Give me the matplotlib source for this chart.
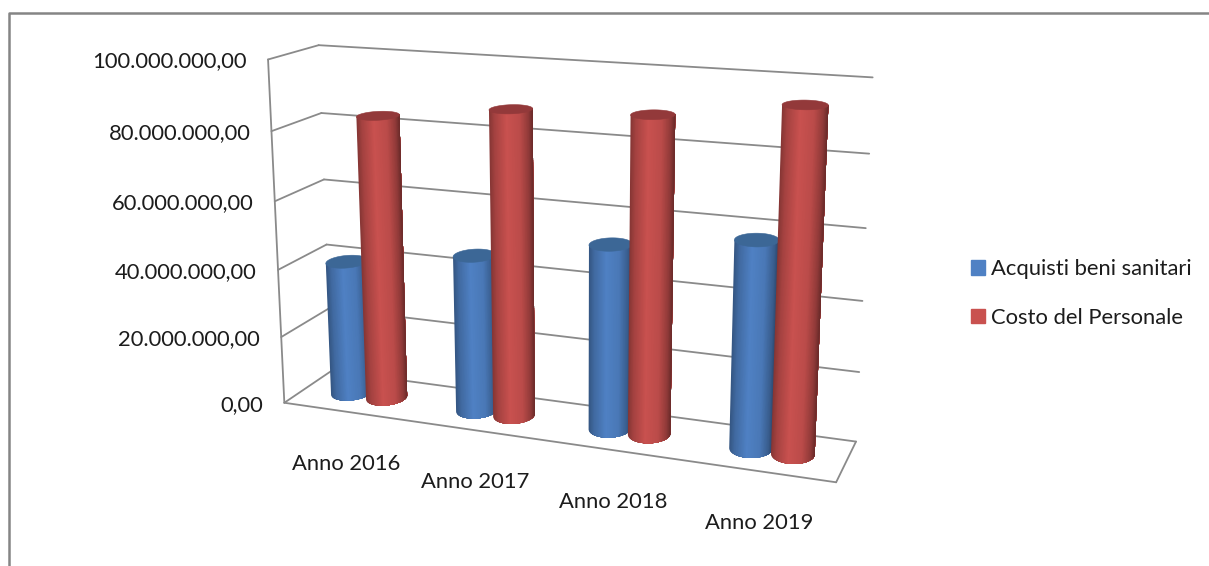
import numpy as np
import matplotlib
matplotlib.use("Agg")
import matplotlib.pyplot as plt
from matplotlib.patches import Patch, Polygon

# dati
categorie = ["Anno 2016", "Anno 2017", "Anno 2018", "Anno 2019"]
acquisti = [40e6, 45.8e6, 52.9e6, 58e6]
personale = [83.5e6, 88e6, 89.2e6, 94.4e6]
tick_valori = [0, 20e6, 40e6, 60e6, 80e6, 100e6]
serie_nomi = ["Acquisti beni sanitari", "Costo del Personale"]

BLU = "#4f81c4"
ROSSO = "#c9514f"
BLU_TOP = "#3c6796"
ROSSO_TOP = "#93393a"
GRIGIO = "#8a8a8a"
TESTO = "#1c1c1c"
FONT = "Lato"
SIZE = 15.8
VMAX = 100e6

# calibrazione della prospettiva: (x, profondita, z) -> pixel
cal = [
    (0, 0, 1, 267.3, 60), (0, 0, .8, 271.7, 130.7), (0, 0, .6, 275.7, 201),
    (0, 0, .4, 278.3, 269.3), (0, 0, .2, 281, 337.3), (0, 0, 0, 284, 403.3),
    (0, 1, 1, 318.3, 45), (0, 1, .8, 321.7, 113.3), (0, 1, .6, 324, 179.7),
    (0, 1, .4, 326.7, 244), (0, 1, .2, 328.3, 309.3), (0, 1, 0, 332, 370),
    (1, 1, 1, 872.7, 77.3), (1, 1, .8, 869.3, 154), (1, 1, .6, 865.7, 228),
    (1, 1, .4, 862.3, 300.7), (1, 1, .2, 859.3, 372), (1, 1, 0, 856, 441.7),
    (1, 0, 0, 836, 482.3),
]
A, b = [], []
for X, Y, Z, u, v in cal:
    A.append([X, Y, Z, 1, 0, 0, 0, 0, -u * X, -u * Y, -u * Z])
    A.append([0, 0, 0, 0, X, Y, Z, 1, -v * X, -v * Y, -v * Z])
    b += [u, v]
p = np.linalg.lstsq(np.array(A, float), np.array(b, float), rcond=None)[0]
P = np.append(p, 1).reshape(3, 4)


def proj(x, y, z):
    x, y, z = np.broadcast_arrays(x, y, z)
    q = P @ np.vstack([x.ravel(), y.ravel(), z.ravel(), np.ones(x.size)])
    return q[0] / q[2], q[1] / q[2]


def linea(ax, a, c):
    u, v = proj([a[0], c[0]], [a[1], c[1]], [a[2], c[2]])
    ax.plot(u, v, color=GRIGIO, lw=1.3, solid_capstyle="round", zorder=1)


def cilindro(ax, xc, val, base, top):
    rx, ry, d = 0.0357, 0.24, 0.5
    z = val / VMAX
    stops_c = [-1, -0.75, -0.2, 0.4, 0.8, 1]
    stops_f = [0.66, 0.82, 1.0, 0.93, 0.72, 0.52]
    rgb = np.array(matplotlib.colors.to_rgb(base))

    t = np.linspace(0, 2 * np.pi, 240, endpoint=False)
    ub, vb = proj(xc + rx * np.cos(t), d + ry * np.sin(t), 0)
    ut, vt = proj(xc + rx * np.cos(t), d + ry * np.sin(t), z)

    # estremi visibili delle due ellissi: i bordi del corpo
    il, ir = np.argmin(ub), np.argmax(ub)
    BL, BR = np.array([ub[il], vb[il]]), np.array([ub[ir], vb[ir]])
    TL = np.array([ut.min(), vt[np.argmin(ut)]])
    TR = np.array([ut.max(), vt[np.argmax(ut)]])

    # arco anteriore dell'ellisse di base, ordinato da sinistra a destra
    idx = np.arange(il, il + 240) % 240
    arco = np.c_[ub[idx], vb[idx]]
    fine = np.argmax(idx == ir)
    if arco[: fine + 1, 1].mean() < arco[fine:, 1].mean():
        arco = arco[fine:][::-1]
    else:
        arco = arco[: fine + 1]
    asse = BR - BL
    fr = (arco - BL) @ asse / (asse @ asse)

    for s0 in np.linspace(0, 1, 60, endpoint=False):
        # ogni striscia arriva fino al bordo destro, la successiva la copre
        T0 = TL + s0 * (TR - TL)
        dopo = arco[fr > s0]
        B0 = np.array([np.interp(s0, fr, arco[:, 0]), np.interp(s0, fr, arco[:, 1])])
        pts = np.vstack([T0, TR, dopo[::-1], B0])
        f = np.interp(2 * (s0 + 1 / 120) - 1, stops_c, stops_f)
        ax.add_patch(Polygon(pts, fc=rgb * f, ec="none", zorder=2))
    ax.add_patch(Polygon(np.c_[ut, vt], fc=top, ec=top, lw=0.4, zorder=2))


def etichetta(v):
    s = f"{v:,.2f}"
    return s.replace(",", "#").replace(".", ",").replace("#", ".")


def main():
    fig = plt.figure(figsize=(12.09, 5.66), dpi=100)
    ax = fig.add_axes([0, 0, 1, 1])
    ax.set_xlim(0, 1209)
    ax.set_ylim(566, 0)
    ax.axis("off")

    # cornice
    ax.plot([9.3, 9.3, 1209], [566, 12.5, 12.5], color="#858585", lw=1.8, zorder=1)

    # pareti e griglia
    for v in tick_valori:
        z = v / VMAX
        linea(ax, (0, 0, z), (0, 1, z))
        linea(ax, (0, 1, z), (1, 1, z))
        u, w = proj(0, 0, z)
        ax.text(u[0] - 21, w[0] + 2, etichetta(v), ha="right", va="center",
                family=FONT, fontsize=SIZE, color=TESTO)
    linea(ax, (0, 0, 0), (0, 0, 1))
    linea(ax, (0, 0, 0), (1, 0, 0))
    linea(ax, (1, 0, 0), (1, 1, 0))

    # cilindri
    n = len(categorie)
    for i in range(n):
        xc = (i + 0.5) / n
        cilindro(ax, xc - 0.0357, acquisti[i], BLU, BLU_TOP)
        cilindro(ax, xc + 0.0357, personale[i], ROSSO, ROSSO_TOP)
        u, w = proj(xc, 0, 0)
        ax.text(u[0], w[0] + 52, categorie[i], ha="center", va="center",
                family=FONT, fontsize=SIZE, color=TESTO)

    # legenda
    handles = [Patch(color=BLU), Patch(color=ROSSO)]
    ax.legend(handles, serie_nomi, loc="center left", bbox_to_anchor=(971 / 1209, 1 - 293.5 / 566),
              frameon=False, prop={"family": FONT, "size": SIZE}, handlelength=0.62,
              handleheight=0.62, handletextpad=0.3, labelspacing=1.3, borderpad=0,
              borderaxespad=0, labelcolor=TESTO)

    plt.savefig("out.png", dpi=100)


if __name__ == '__main__':
    main()
